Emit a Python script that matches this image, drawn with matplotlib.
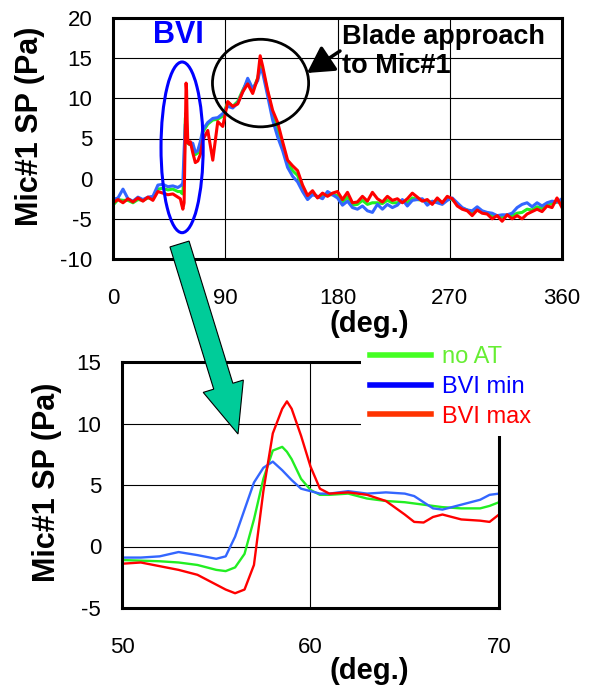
import numpy as np
import matplotlib
matplotlib.use('Agg')
import matplotlib.pyplot as plt
from matplotlib.patches import Ellipse, FancyArrow

plt.rcParams['font.family'] = ['Liberation Sans', 'DejaVu Sans']
plt.rcParams['axes.unicode_minus'] = False

# ---- full revolution (top panel) ----
deg_top = ([0, 4, 8, 12, 16, 20, 24, 28, 32, 36, 40, 44, 48, 52,
            54, 55, 56, 57, 58, 58.6, 59, 59.5, 60, 61, 62,
            64, 66, 68, 70, 72, 76, 80, 84, 88,
            92, 96, 100, 104, 108, 112, 116, 118, 120]
           + list(range(124, 361, 4)))

red_top = [-3.0, -2.6, -3.0, -2.5, -2.9, -2.4, -2.8, -2.3, -2.7, -1.6, -1.8, -2.0, -1.9, -2.3,
           -2.5, -3.2, -3.8, -3.0, 6.0, 11.9, 11.0, 7.0, 4.5, 4.3, 4.6,
           3.2, 2.0, 2.2, 3.0, 4.8, 6.0, 2.3, 7.1, 6.5,
           9.6, 9.0, 9.3, 10.8, 11.8, 10.6, 12.5, 15.3, 14.0,
           11.0, 8.5, 7.0, 4.6, 2.3, 1.6, 1.0, -0.8, -2.1, -1.5,
           -2.4, -1.8, -2.2, -1.8, -1.6, -2.6, -1.7, -3.0, -2.9, -2.2,
           -2.8, -1.7, -2.5, -2.9, -2.2, -2.7, -2.5, -3.0, -2.5, -1.8,
           -2.3, -2.8, -2.6, -3.2, -2.4, -3.0, -2.2, -2.5, -3.4, -3.8,
           -4.0, -4.6, -3.9, -4.3, -4.4, -5.0, -4.6, -5.3, -4.5, -5.0,
           -4.6, -5.0, -4.4, -4.1, -3.8, -4.1, -3.4, -3.6, -2.4, -3.6]

blue_top = [-2.6, -2.4, -1.3, -2.5, -2.8, -2.3, -2.6, -2.3, -2.2, -0.8, -0.7, -1.0, -0.9, -1.1,
            -0.9, -0.8, -0.5, 3.5, 6.8, 6.5, 5.5, 5.0, 4.6, 4.4, 4.5,
            4.4, 3.3, 3.5, 4.6, 6.1, 7.0, 7.5, 7.6, 8.1,
            9.0, 8.8, 9.4, 10.8, 12.5, 11.2, 12.2, 13.6, 13.2,
            10.3, 7.3, 5.2, 3.5, 1.4, 0.3, -0.4, -1.6, -2.6, -2.0,
            -2.2, -2.5, -1.6, -2.0, -2.4, -3.3, -2.8, -3.6, -3.8, -3.4,
            -4.0, -4.2, -3.2, -3.8, -3.2, -3.6, -3.3, -2.6, -3.4, -2.7,
            -2.6, -2.5, -3.3, -2.8, -3.0, -3.2, -2.7, -2.4, -3.0, -3.6,
            -3.9, -4.0, -3.5, -4.0, -4.2, -4.3, -4.6, -4.5, -4.5, -4.3,
            -3.6, -3.2, -3.0, -3.5, -3.0, -3.4, -3.0, -2.8, -2.9, -2.5]

green_top = [-3.3, -2.6, -2.7, -2.7, -3.0, -2.6, -2.7, -2.4, -2.5, -1.3, -1.2, -1.4, -1.3, -1.6,
             -1.6, -1.8, -1.9, 1.0, 7.5, 8.2, 7.0, 5.5, 4.4, 4.3, 4.4,
             4.0, 3.0, 3.2, 4.3, 5.8, 6.8, 7.3, 7.4, 7.8,
             9.5, 9.0, 9.6, 11.0, 12.2, 11.0, 12.5, 14.0, 13.5,
             10.8, 8.0, 6.2, 4.2, 2.0, 1.0, 0.4, -1.2, -2.3, -1.8,
             -2.3, -2.2, -2.0, -2.0, -2.1, -2.9, -2.3, -3.3, -3.2, -2.7,
             -3.2, -3.0, -3.0, -3.1, -2.7, -3.0, -3.0, -2.8, -3.0, -2.4,
             -2.6, -2.7, -2.8, -3.0, -2.8, -3.0, -2.5, -2.6, -3.2, -3.7,
             -3.9, -4.2, -3.9, -4.2, -4.3, -4.6, -4.6, -4.8, -4.5, -4.6,
             -4.3, -4.2, -3.8, -3.9, -3.5, -3.7, -3.3, -3.1, -2.9, -3.0]

# ---- zoom on BVI (bottom panel) ----
deg_zoom = [50, 51, 52, 53, 54, 55, 55.5, 56, 56.5, 57, 57.5, 58, 58.5, 58.75, 59, 59.5,
            60, 60.5, 61, 62, 63, 64, 65, 65.5, 66, 66.5, 67, 68, 69, 69.5, 70]
green_zoom = [-1.1, -1.15, -1.2, -1.3, -1.5, -1.9, -2.0, -1.7, -0.6, 2.2, 5.5, 7.8, 8.1, 7.7, 7.1, 5.5,
              4.6, 4.2, 4.2, 4.3, 3.9, 3.7, 3.6, 3.5, 3.4, 3.3, 3.2, 3.1, 3.1, 3.3, 3.6]
blue_zoom = [-0.9, -0.9, -0.8, -0.45, -0.7, -1.0, -0.8, 0.8, 3.0, 5.2, 6.4, 6.9, 6.2, 5.8, 5.4, 4.7,
             4.5, 4.3, 4.3, 4.5, 4.3, 4.4, 4.3, 4.1, 3.6, 3.1, 3.0, 3.4, 3.8, 4.2, 4.3]
red_zoom = [-1.4, -1.3, -1.6, -1.9, -2.3, -3.1, -3.5, -3.8, -3.5, -1.5, 4.5, 9.2, 11.2, 11.8, 11.2, 9.0,
            6.5, 4.7, 4.3, 4.4, 4.2, 3.7, 2.6, 2.0, 1.95, 2.4, 2.6, 2.2, 2.1, 2.0, 2.6]

labels = ['no AT', 'BVI min', 'BVI max']
line_colors = ['#22EE22', '#3366FF', '#FF0000']
legend_colors = ['#44FF22', '#0000FF', '#FF3300']
text_colors = ['#66EE33', '#0000FF', '#FF0000']

fig = plt.figure(figsize=(5.91, 6.88), dpi=100)
ax1 = fig.add_axes([113/591, 1-259/688, 449/591, 241/688])
ax2 = fig.add_axes([122/591, 1-608/688, 377/591, 246/688])

for ys, c in zip([green_top, blue_top, red_top], line_colors):
    ax1.plot(deg_top, ys, color=c, lw=2.2)
for ys, c, lab in zip([green_zoom, blue_zoom, red_zoom], line_colors, labels):
    ax2.plot(deg_zoom, ys, color=c, lw=1.7, label=lab)

ax1.set_xlim(0, 360)
ax1.set_ylim(-10, 20)
ax1.set_xticks([0, 90, 180, 270, 360])
ax1.set_yticks(np.arange(-10, 21, 5))
ax2.set_xlim(50, 70)
ax2.set_ylim(-5, 15)
ax2.set_xticks([50, 60, 70])
ax2.set_yticks([-5, 0, 5, 10, 15])

for ax in (ax1, ax2):
    ax.grid(True, color='black', lw=0.8)
    ax.set_axisbelow(True)
    for s in ax.spines.values():
        s.set_linewidth(2.2)
    ax.tick_params(length=0, labelsize=16)
    ax.tick_params(axis='x', pad=21)
    ax.tick_params(axis='y', pad=15)
    ax.set_xlabel('(deg.)', fontsize=21, fontweight='bold')
    ax.set_ylabel('Mic#1 SP (Pa)', fontsize=22, fontweight='bold')

ax1.xaxis.set_label_coords(0.570, -0.21)
ax2.xaxis.set_label_coords(0.655, -0.20)
ax1.yaxis.set_label_coords(-0.152, 0.55)
ax2.yaxis.set_label_coords(-0.16, 0.51)

# annotations on the top panel
ax1.add_patch(Ellipse((55.4, 3.9), 33.8, 21.25, fill=False, ec='#0000FF', lw=2.2, zorder=5))
ax1.add_patch(Ellipse((118.3, 11.9), 77.1, 10.9, fill=False, ec='black', lw=2.0, zorder=5))
ax1.text(52.2, 17.9, 'BVI', color='#0000FF', fontsize=22, fontweight='bold',
         ha='center', va='center')
ax1.text(184, 15.8, 'Blade approach\nto Mic#1', color='black', fontsize=19.5,
         fontweight='bold', ha='left', va='center', linespacing=1.15)

leg = ax2.legend(loc='lower left', bbox_to_anchor=(0.635, 0.70), frameon=True, fancybox=False,
                 edgecolor='none', facecolor='white', framealpha=1, fontsize=17,
                 handlelength=2.6, handletextpad=0.45, labelspacing=0.32,
                 borderpad=0.35, borderaxespad=0)
for h, c in zip(leg.legend_handles, legend_colors):
    h.set_color(c)
    h.set_linewidth(4)
for t, c in zip(leg.get_texts(), text_colors):
    t.set_color(c)

# overlay for arrows spanning the figure
ov = fig.add_axes([0, 0, 1, 1])
ov.set_xlim(0, 591)
ov.set_ylim(688, 0)
ov.axis('off')
ov.add_patch(FancyArrow(179.5, 244, 58.5, 190, width=20, head_width=42, head_length=50,
                        length_includes_head=True, fc='#00CC99', ec='black', lw=0.8))
ov.annotate('', xy=(307, 73), xytext=(340, 51),
            arrowprops=dict(arrowstyle='-|>,head_length=0.8,head_width=0.45',
                            color='black', lw=2.5, shrinkA=0, shrinkB=0,
                            mutation_scale=20))

fig.savefig('out.png', dpi=100)
